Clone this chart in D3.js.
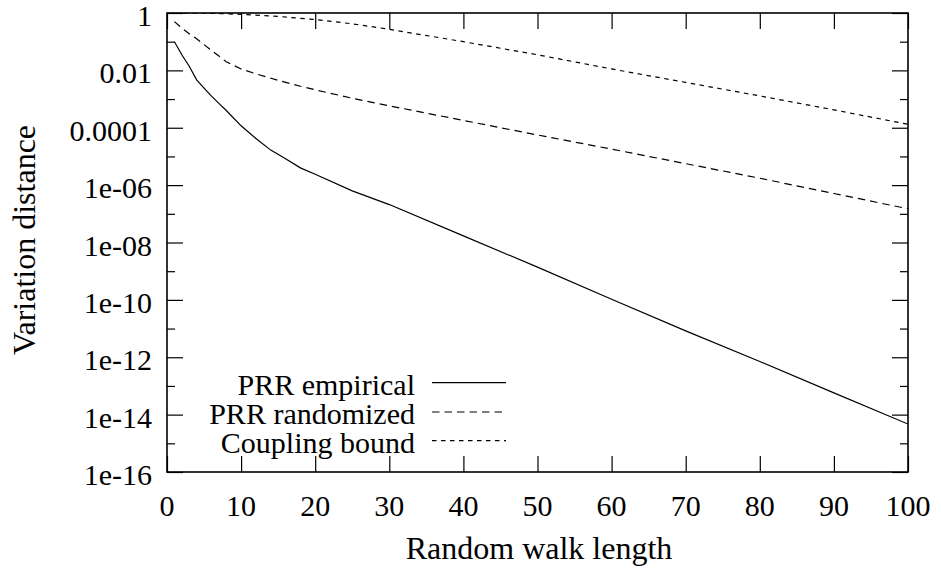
<!DOCTYPE html>
<html>
<head>
<meta charset="utf-8">
<script src="https://cdn.jsdelivr.net/npm/d3@7"></script>
<style>
  html, body { margin: 0; padding: 0; background: #fff; }
  svg text { font-family: "Liberation Serif", Tinos, "Times New Roman", Times, "DejaVu Serif", "Noto Serif", serif; }
</style>
</head>
<body>
<svg id="chart" width="941" height="570"></svg>
<script>
// ---- data ----
const seriesNames = ["PRR empirical", "PRR randomized", "Coupling bound"];

const empiricalX = [1, 2, 3, 4, 5, 6, 7, 8, 10, 12, 14, 16, 18, 20, 25, 30, 40, 50, 60, 70, 80, 90, 100];
const empiricalY = [1e-1, 3.5e-2, 1.4e-2, 4.7e-3, 2.4e-3, 1.26e-3, 7.1e-4, 4.0e-4, 1.17e-4, 4.2e-5, 1.66e-5, 8.3e-6, 4.0e-6, 2.4e-6, 6.3e-7, 2.1e-7, 1.7e-8, 1.38e-9, 1.05e-10, 8.3e-12, 7.1e-13, 5.75e-14, 4.7e-15];

const randomizedX = [1, 2, 3, 4, 5, 6, 8, 10, 12, 15, 18, 20, 25, 30, 40, 50, 60, 70, 80, 90, 100];
const randomizedY = [5.0e-1, 3.0e-1, 1.9e-1, 1.26e-1, 7.9e-2, 5.0e-2, 2.0e-2, 1.12e-2, 7.6e-3, 4.5e-3, 2.8e-3, 2.1e-3, 1.07e-3, 5.8e-4, 1.8e-4, 5.6e-5, 1.8e-5, 5.6e-6, 1.74e-6, 5.1e-7, 1.5e-7];

const couplingX = [1, 5, 10, 15, 20, 25, 30, 40, 50, 60, 70, 80, 90, 100];
const couplingY = [1, 0.99, 0.9, 0.76, 0.59, 0.42, 0.27, 0.1, 0.035, 0.0112, 3.8e-3, 1.29e-3, 4.2e-4, 1.32e-4];

const xTickValues = [0, 10, 20, 30, 40, 50, 60, 70, 80, 90, 100];
const yMajorTicks = [1, 1e-2, 1e-4, 1e-6, 1e-8, 1e-10, 1e-12, 1e-14, 1e-16];
const yMajorLabels = ["1", "0.01", "0.0001", "1e-06", "1e-08", "1e-10", "1e-12", "1e-14", "1e-16"];
const yMinorTicks = [1e-1, 1e-3, 1e-5, 1e-7, 1e-9, 1e-11, 1e-13, 1e-15];

const xTitle = "Random walk length";
const yTitle = "Variation distance";

// ---- layout ----
const L = 167, R = 908, T = 13, B = 472;
const tickFont = 30, titleFont = 32, legendFont = 30;
const svg = d3.select("#chart");

const x = d3.scaleLinear().domain([0, 100]).range([L, R]);
const y = d3.scaleLog().domain([1e-16, 1]).range([B, T]);

const series = [
  { name: seriesNames[0], xs: empiricalX, ys: empiricalY, dash: null },
  { name: seriesNames[1], xs: randomizedX, ys: randomizedY, dash: "7.5,5" },
  { name: seriesNames[2], xs: couplingX, ys: couplingY, dash: "4.5,4.5" }
];

const majorLen = 16, minorLen = 8;
function tickAxis(axisFn, scale, vals, len, transform) {
  svg.append("g").attr("transform", transform)
    .call(axisFn(scale).tickValues(vals).tickSize(len).tickFormat(""))
    .call(g => g.select(".domain").remove())
    .call(g => g.selectAll("line").attr("stroke", "#000").attr("stroke-width", 1.2));
}
tickAxis(d3.axisRight, y, yMajorTicks, majorLen, `translate(${L},0)`);
tickAxis(d3.axisRight, y, yMinorTicks, minorLen, `translate(${L},0)`);
tickAxis(d3.axisLeft, y, yMajorTicks, majorLen, `translate(${R},0)`);
tickAxis(d3.axisLeft, y, yMinorTicks, minorLen, `translate(${R},0)`);
tickAxis(d3.axisTop, x, xTickValues, majorLen, `translate(0,${B})`);
tickAxis(d3.axisBottom, x, xTickValues, majorLen, `translate(0,${T})`);

// y tick labels
svg.append("g").selectAll("text").data(yMajorTicks).join("text")
  .attr("font-size", tickFont).attr("fill", "#000")
  .attr("x", 152).attr("y", d => y(d) + 13)
  .attr("text-anchor", "end")
  .text((d, i) => yMajorLabels[i]);

// x tick labels
svg.append("g").selectAll("text").data(xTickValues).join("text")
  .attr("font-size", tickFont).attr("fill", "#000")
  .attr("x", d => x(d)).attr("y", 516)
  .attr("text-anchor", "middle")
  .text(d => d);

// axis titles
svg.append("text").attr("font-size", titleFont).attr("fill", "#000")
  .attr("x", 539).attr("y", 559)
  .attr("text-anchor", "middle").text(xTitle);
svg.append("text").attr("font-size", titleFont).attr("fill", "#000")
  .attr("transform", `translate(35,240) rotate(-90)`)
  .attr("text-anchor", "middle").text(yTitle);

// data lines
const line = d3.line().x(d => x(d[0])).y(d => y(d[1]));
svg.append("defs").append("clipPath").attr("id", "plotclip")
  .append("rect").attr("x", L).attr("y", T).attr("width", R - L).attr("height", B - T);
series.forEach(s => {
  svg.append("path")
    .datum(s.xs.map((v, i) => [v, s.ys[i]]))
    .attr("clip-path", "url(#plotclip)")
    .attr("fill", "none").attr("stroke", "#000").attr("stroke-width", 1.2)
    .attr("stroke-dasharray", s.dash)
    .attr("d", line);
});

// legend
const legRows = [382.7, 412, 440.7];
series.forEach((s, i) => {
  svg.append("text").attr("font-size", legendFont).attr("fill", "#000")
    .attr("x", 415).attr("y", legRows[i] + 12)
    .attr("text-anchor", "end").text(s.name);
  svg.append("line").attr("x1", 432).attr("x2", 506)
    .attr("y1", legRows[i]).attr("y2", legRows[i])
    .attr("stroke", "#000").attr("stroke-width", 1.2)
    .attr("stroke-dasharray", s.dash);
});

// frame
svg.append("rect").attr("x", L).attr("y", T).attr("width", R - L).attr("height", B - T)
  .attr("fill", "none").attr("stroke", "#000").attr("stroke-width", 1.6);
</script>
</body>
</html>
